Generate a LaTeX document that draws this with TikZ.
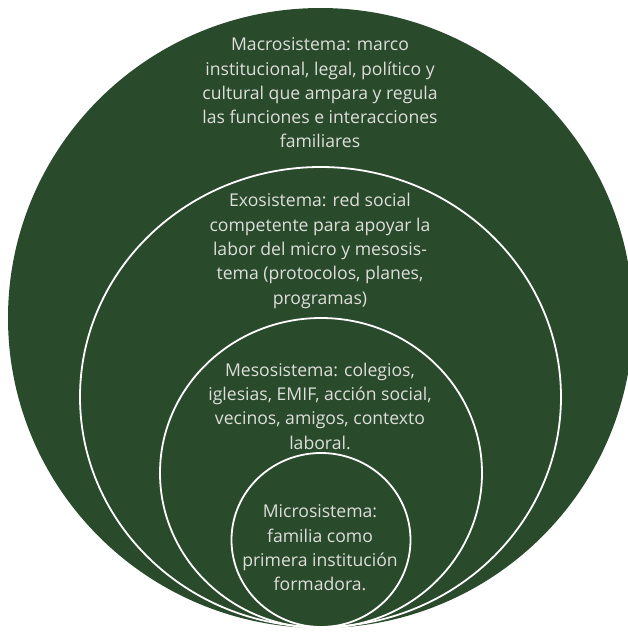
\documentclass[tikz,border=0pt]{standalone}
\usepackage{fontspec}
\setmainfont{Open Sans}
\usetikzlibrary{shapes.geometric}
\definecolor{bggreen}{RGB}{42,74,44}
\definecolor{txtgray}{RGB}{222,222,218}
\tikzset{
  ring/.style={draw=white, line width=1.8pt},
  lbl/.style={text=txtgray, align=center, font=\fontsize{17.6}{24.3}\selectfont, inner sep=0pt}
}
\begin{document}
\begin{tikzpicture}[x=1pt,y=1pt]
\useasboundingbox (0,0) rectangle (628,-633);
\begin{scope}
\clip (0,0) rectangle (628,-633);
\fill[bggreen] (320.5,-318) ellipse [x radius=312.5, y radius=310];
\end{scope}
\draw[ring] (320.5,-397) ellipse [x radius=240.5, y radius=230];
\draw[ring] (321,-473) ellipse [x radius=161, y radius=155];
\draw[ring] (321,-540) ellipse [x radius=89.5, y radius=87];
\node[lbl] (macro) at (320,-93) {Macrosistema: marco\\institucional, legal, político y\\cultural que ampara y regula\\las funciones e interacciones\\familiares};
\node[lbl] (exo) at (320,-251) {Exosistema: red social\\competente para apoyar la\\labor del micro y mesosis-\\tema (protocolos, planes,\\programas)};
\node[lbl] (meso) at (320,-406) {Mesosistema: colegios,\\iglesias, EMIF, acción social,\\vecinos, amigos, contexto\\laboral.};
\node[lbl] (micro) at (320,-548) {Microsistema:\\familia como\\primera institución\\formadora.};
\end{tikzpicture}
\end{document}
